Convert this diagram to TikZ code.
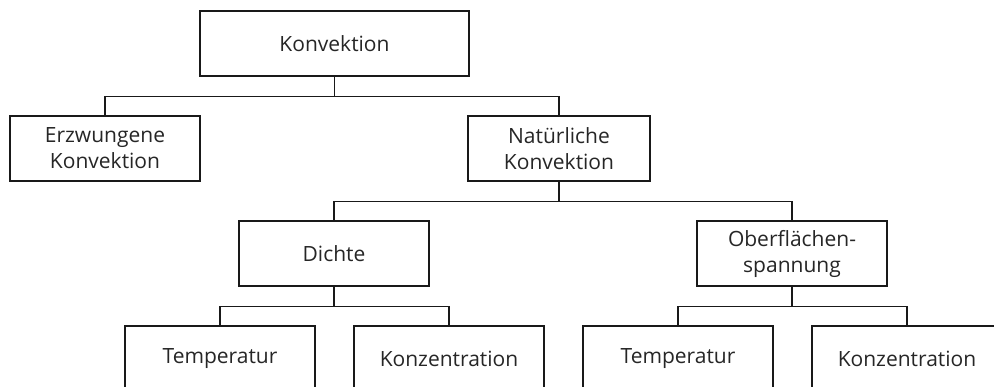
\documentclass[tikz,border=0pt]{standalone}
\usepackage{fontspec}
\setmainfont{Open Sans}
\usepackage{tikz}
\usetikzlibrary{positioning}

\begin{document}
\begin{tikzpicture}[
    x=1pt, y=-1pt,
    box/.style={
        rectangle,
        draw=black!90,
        line width=1.3pt,
        align=center,
        inner sep=0pt,
        minimum width=190pt,
        minimum height=65pt,
        text=black!85,
        font=\fontsize{21}{26}\selectfont
    },
    line/.style={draw=black!90, line width=1.3pt}
]
\useasboundingbox (0,0) rectangle (994,387);

% --- oben ---
\node[box, minimum width=269pt] (konv) at (334.5,43.5) {Konvektion};

% --- zweite Ebene ---
\node[box] (erzw) at (105,148.5) {Erzwungene\\Konvektion};
\node[box, minimum width=182pt] (nat) at (559,148.5) {Natürliche\\Konvektion};

% --- dritte Ebene ---
\node[box] (dichte) at (334,253.5) {Dichte};
\node[box] (ober)   at (792,253.5) {Oberflächen-\\spannung};

% --- unten (vom Rand abgeschnitten) ---
\node[box] (temp1) at (220,358.5) {Temperatur};
\node[box] (konz1) at (449,358.5) {Konzentration};
\node[box] (temp2) at (678,358.5) {Temperatur};
\node[box] (konz2) at (907,358.5) {Konzentration};

% --- Verbindungen ---
\draw[line] (konv.south) -- ++(0,20) coordinate (j1);
\draw[line] (j1) -| (erzw.north);
\draw[line] (j1) -| (nat.north);

\draw[line] (nat.south) -- ++(0,20) coordinate (j2);
\draw[line] (j2) -| (dichte.north);
\draw[line] (j2) -| (ober.north);

\draw[line] (dichte.south) -- ++(0,20) coordinate (j3);
\draw[line] (j3) -| (temp1.north);
\draw[line] (j3) -| (konz1.north);

\draw[line] (ober.south) -- ++(0,20) coordinate (j4);
\draw[line] (j4) -| (temp2.north);
\draw[line] (j4) -| (konz2.north);

\end{tikzpicture}
\end{document}
